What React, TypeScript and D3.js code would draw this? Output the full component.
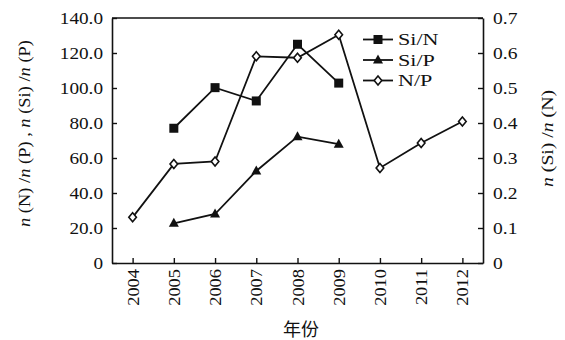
import React, { useEffect, useRef } from "react";
import * as d3 from "d3";

const years = ["2004", "2005", "2006", "2007", "2008", "2009", "2010", "2011", "2012"];
// Si/N on the right axis
const siN: (number | null)[] = [null, 0.385, 0.501, 0.463, 0.625, 0.514, null, null, null];
const siP: (number | null)[] = [null, 22.7, 28.0, 52.6, 72.2, 67.9, null, null, null];
const nP: (number | null)[] = [26.1, 56.6, 58.0, 118.1, 117.3, 130.4, 54.3, 68.6, 80.9];
const leftTicks = [0, 20, 40, 60, 80, 100, 120, 140];
const rightTicks = [0, 0.1, 0.2, 0.3, 0.4, 0.5, 0.6, 0.7];

const FONT = "'Liberation Serif', 'DejaVu Serif', serif";
const CJK = "'Noto Sans CJK SC', sans-serif";

// the original typeface is wider than Times, stretch glyphs a bit
function stretch(sel: any, k: number) {
  sel.each(function (this: SVGTextElement) {
    const len = this.getComputedTextLength();
    d3.select(this).attr("textLength", len * k).attr("lengthAdjust", "spacingAndGlyphs");
  });
}

export default function App() {
  const svgRef = useRef<SVGSVGElement>(null);

  useEffect(() => {
    const W = 565, H = 340;
    const m = { top: 18, right: 82, bottom: 77, left: 112 };
    const w = W - m.left - m.right;
    const h = H - m.top - m.bottom;

    const root = d3.select(svgRef.current);
    root.selectAll("*").remove();
    root.attr("width", W).attr("height", H);
    root.append("rect").attr("width", W).attr("height", H).attr("fill", "#fff");

    const g = root.append("g").attr("transform", `translate(${m.left},${m.top})`);

    const x = d3.scalePoint<string>().domain(years).range([0, w]).padding(0.5);
    const yL = d3.scaleLinear().domain([0, 140]).range([h, 0]);
    const yR = d3.scaleLinear().domain([0, 0.7]).range([h, 0]);

    // axes, ticks pointing inward
    const left = g.append("g")
      .call(d3.axisLeft(yL).tickValues(leftTicks).tickSizeInner(-5).tickSizeOuter(0).tickPadding(9)
        .tickFormat(d => (+d === 0 ? "0" : d3.format(".1f")(+d))));
    const right = g.append("g").attr("transform", `translate(${w},0)`)
      .call(d3.axisRight(yR).tickValues(rightTicks).tickSizeInner(-5).tickSizeOuter(0).tickPadding(10)
        .tickFormat(d => (+d === 0 ? "0" : d3.format(".1f")(+d))));
    const bottom = g.append("g").attr("transform", `translate(0,${h})`)
      .call(d3.axisBottom(x).tickSizeInner(-5).tickSizeOuter(0).tickPadding(0));
    g.append("line").attr("x1", 0).attr("x2", w).attr("y1", 0).attr("y2", 0)
      .attr("stroke", "#111").attr("stroke-width", 1.6);

    [left, right, bottom].forEach(a => {
      a.select(".domain").attr("stroke", "#111").attr("stroke-width", 1.6);
      a.selectAll(".tick line").attr("stroke", "#111").attr("stroke-width", 1.4);
      a.selectAll("text").attr("fill", "#111").style("font-family", FONT).style("font-size", "16px");
    });
    bottom.selectAll("text")
      .attr("transform", "rotate(-90)")
      .attr("x", -6).attr("y", 0).attr("dy", "0.35em")
      .style("text-anchor", "end");
    stretch(left.selectAll("text"), 1.2);
    stretch(right.selectAll("text"), 1.22);
    stretch(bottom.selectAll("text"), 1.15);

    const line = d3.line<number | null>()
      .defined(d => d !== null)
      .x((_, i) => x(years[i]) as number);

    function drawMarker(sel: any, cx: number, cy: number, marker: string) {
      if (marker === "square") {
        sel.append("rect").attr("x", cx - 4.5).attr("y", cy - 4.5).attr("width", 9).attr("height", 9)
          .attr("fill", "#111");
      } else if (marker === "triangle") {
        sel.append("path").attr("d", `M${cx},${cy - 5.5}L${cx + 5},${cy + 3.5}L${cx - 5},${cy + 3.5}Z`)
          .attr("fill", "#111");
      } else {
        sel.append("path").attr("d", `M${cx},${cy - 4.5}L${cx + 3.8},${cy}L${cx},${cy + 4.5}L${cx - 3.8},${cy}Z`)
          .attr("fill", "#fff").attr("stroke", "#111").attr("stroke-width", 1.6);
      }
    }

    const drawSeries = (vals: (number | null)[], ys: d3.ScaleLinear<number, number>, marker: string) => {
      g.append("path")
        .attr("fill", "none")
        .attr("stroke", "#111")
        .attr("stroke-width", 1.8)
        .attr("d", line.y(d => ys(d as number))(vals));
      vals.forEach((v, i) => {
        if (v !== null) drawMarker(g, x(years[i]) as number, ys(v), marker);
      });
    };

    drawSeries(siN, yR, "square");
    drawSeries(siP, yL, "triangle");
    drawSeries(nP, yL, "diamond");

    // legend
    const legend = [
      { label: "Si/N", marker: "square" },
      { label: "Si/P", marker: "triangle" },
      { label: "N/P", marker: "diamond" },
    ];
    legend.forEach((d, i) => {
      const ly = 39.5 + i * 20.5;
      root.append("line").attr("x1", 363).attr("x2", 393).attr("y1", ly).attr("y2", ly)
        .attr("stroke", "#111").attr("stroke-width", 1.8);
      drawMarker(root, 378, ly, d.marker);
      const t = root.append("text").attr("x", 398).attr("y", ly).attr("dy", "0.35em")
        .style("font-family", FONT).style("font-size", "17px").attr("fill", "#111")
        .text(d.label);
      stretch(t, 1.3);
    });

    // axis titles
    const yTitle = root.append("text")
      .attr("transform", `translate(30,${133.5}) rotate(-90)`)
      .style("text-anchor", "middle")
      .style("font-family", FONT).style("font-size", "16px").attr("fill", "#111");
    const parts: [string, boolean][] = [
      ["n", true], [" (N) /", false], ["n", true], [" (P) , ", false],
      ["n", true], [" (Si) /", false], ["n", true], [" (P)", false],
    ];
    parts.forEach(([t, it]) => {
      yTitle.append("tspan").style("font-style", it ? "italic" : "normal").text(t);
    });
    yTitle.attr("textLength", 187).attr("lengthAdjust", "spacingAndGlyphs");

    const rTitle = root.append("text")
      .attr("transform", `translate(553,${138.5}) rotate(-90)`)
      .style("text-anchor", "middle")
      .style("font-family", FONT).style("font-size", "16px").attr("fill", "#111");
    [["n", true], [" (Si) /", false], ["n", true], [" (N)", false]].forEach(([t, it]) => {
      rTitle.append("tspan").style("font-style", it ? "italic" : "normal").text(t as string);
    });
    rTitle.attr("textLength", 97).attr("lengthAdjust", "spacingAndGlyphs");

    root.append("text")
      .attr("x", 301).attr("y", 336)
      .style("text-anchor", "middle")
      .style("font-family", CJK).style("font-size", "18px").attr("fill", "#111")
      .text("年份");
  }, []);

  return (
    <svg ref={svgRef} style={{ position: "absolute", left: 0, top: 0, display: "block" }} />
  );
}
